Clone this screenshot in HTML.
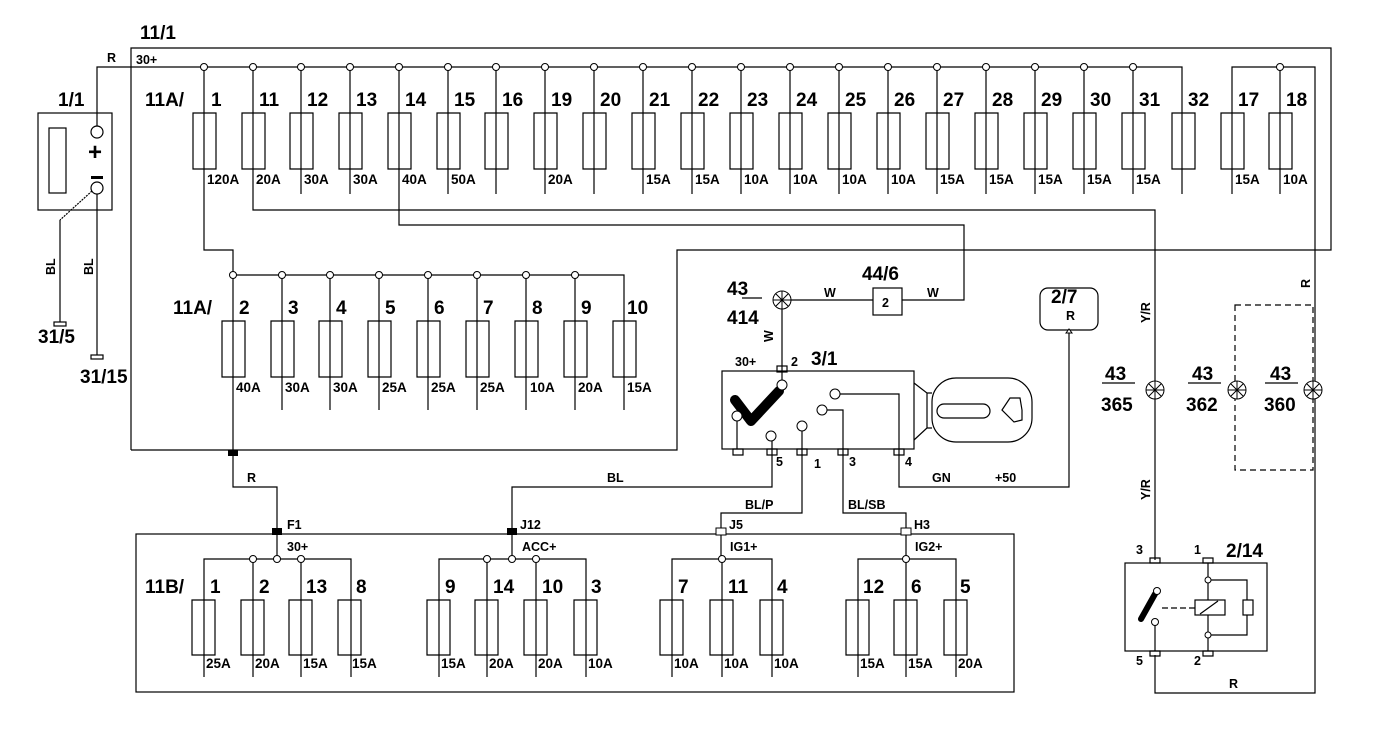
<!DOCTYPE html>
<html><head><meta charset="utf-8"><style>
html,body{margin:0;padding:0;background:#fff;}
svg{display:block;}
text{font-family:"Liberation Sans",Arial,sans-serif;font-weight:bold;fill:#000;}
.n{font-size:19px;}
.a{font-size:13.5px;}
.s{font-size:12.5px;}
</style></head><body>
<svg width="1376" height="748" viewBox="0 0 1376 748" xmlns="http://www.w3.org/2000/svg">
<g fill="none" stroke="#000" stroke-width="1.2">
<polyline points="131,450 131,48 1331,48 1331,250 677,250 677,450 131,450"/>
<polyline points="97,132 97,67 1182,67 1182,194"/>
<polyline points="1232,194 1232,67 1315,67 1315,693 1155,693 1155,655"/>
<path d="M204,67V250H233V450M253,67V210H1155V560M301,67V194M350,67V194M399,67V225H964V300H902M448,67V194M496,67V194M545,67V194M594,67V194M643,67V194M692,67V194M741,67V194M790,67V194M839,67V194M888,67V194M937,67V194M986,67V194M1035,67V194M1084,67V194M1133,67V194M1280,67V194"/>
<path d="M193,113h23v56h-23zM242,113h23v56h-23zM290,113h23v56h-23zM339,113h23v56h-23zM388,113h23v56h-23zM437,113h23v56h-23zM485,113h23v56h-23zM534,113h23v56h-23zM583,113h23v56h-23zM632,113h23v56h-23zM681,113h23v56h-23zM730,113h23v56h-23zM779,113h23v56h-23zM828,113h23v56h-23zM877,113h23v56h-23zM926,113h23v56h-23zM975,113h23v56h-23zM1024,113h23v56h-23zM1073,113h23v56h-23zM1122,113h23v56h-23zM1172,113h23v56h-23zM1221,113h23v56h-23zM1269,113h23v56h-23z"/>
<polyline points="233,275 624,275 624,410"/>
<path d="M282,275V410M330,275V410M379,275V410M428,275V410M477,275V410M526,275V410M575,275V410"/>
<path d="M222,321h23v56h-23zM271,321h23v56h-23zM319,321h23v56h-23zM368,321h23v56h-23zM417,321h23v56h-23zM466,321h23v56h-23zM515,321h23v56h-23zM564,321h23v56h-23zM613,321h23v56h-23z"/>
<polyline points="233,450 233,487 277,487 277,559"/>
<rect x="136" y="534" width="878" height="158"/>
<polyline points="512,559 512,487 772,487 772,436"/>
<polyline points="721,559 721,513 802,513 802,426"/>
<polyline points="906,559 906,513 843,513 843,410 822,410"/>
<polyline points="835,394 899,394 899,487 1069,487 1069,330"/>
<path d="M204,677V559H351V677M253,559V677M301,559V677"/>
<path d="M439,677V559H586V677M487,559V677M536,559V677"/>
<path d="M672,677V559H772V677M722,559V677"/>
<path d="M858,677V559H956V677M906,559V677"/>
<path d="M192,600h23v55h-23zM241,600h23v55h-23zM289,600h23v55h-23zM338,600h23v55h-23zM427,600h23v55h-23zM475,600h23v55h-23zM524,600h23v55h-23zM574,600h23v55h-23zM660,600h23v55h-23zM710,600h23v55h-23zM760,600h23v55h-23zM846,600h23v55h-23zM894,600h23v55h-23zM944,600h23v55h-23z"/>
<rect x="38" y="113" width="74" height="97"/>
<rect x="49" y="128" width="17" height="65"/>
<circle cx="97" cy="132" r="6" fill="#fff"/>
<circle cx="97" cy="188" r="6" fill="#fff"/>
<line x1="97" y1="194" x2="97" y2="355"/>
<line x1="92" y1="191" x2="60" y2="220" stroke-dasharray="2,1"/>
<line x1="60" y1="220" x2="60" y2="322"/>
<rect x="54" y="322" width="12" height="4"/>
<rect x="91" y="355" width="12" height="4"/>
<line x1="782" y1="300" x2="873" y2="300"/>
<line x1="782" y1="300" x2="782" y2="385"/>
<rect x="873" y="288" width="29" height="27"/>
<rect x="1040" y="288" width="58" height="42" rx="8"/>
<rect x="722" y="371" width="192" height="78"/>
<rect x="777" y="366" width="10" height="6"/>
<path d="M733,449h10v6h-10zM767,449h10v6h-10zM797,449h10v6h-10zM838,449h10v6h-10zM894,449h10v6h-10z"/>
<line x1="737" y1="416" x2="737" y2="449"/>
<path d="M914,383L927,393V428L914,440M927,393h5M927,428h5"/>
<rect x="932" y="378" width="100" height="64" rx="24"/>
<rect x="937" y="404" width="53" height="14" rx="7"/>
<path d="M1002,410L1010,398H1020L1022,410V420L1014,422Z"/>
<rect x="1235" y="305" width="78" height="165" stroke-dasharray="6,4"/>
<rect x="1125" y="563" width="142" height="88"/>
<path d="M1150,558h10v5h-10zM1203,558h10v5h-10zM1150,651h10v5h-10zM1203,651h10v5h-10z"/>
<line x1="1208" y1="563" x2="1208" y2="651"/>
<rect x="1195" y="600" width="30" height="15" fill="#fff"/>
<line x1="1200" y1="614" x2="1218" y2="601"/>
<rect x="1243" y="600" width="10" height="15"/>
<path d="M1208,580H1247V600M1247,615V635H1208"/>
<line x1="1162" y1="608" x2="1195" y2="608" stroke-dasharray="6,3"/>
<line x1="1155" y1="622" x2="1155" y2="651"/>
</g>
<polyline points="735,400 751,421 779,391" fill="none" stroke="#000" stroke-width="10" stroke-linecap="round" stroke-linejoin="round"/>
<line x1="1141" y1="619" x2="1155" y2="594" stroke="#000" stroke-width="6" stroke-linecap="round"/>
<rect x="91" y="176" width="12" height="3" fill="#000"/>
<rect x="228" y="450" width="10" height="6" fill="#000"/>
<rect x="272" y="528" width="10" height="7" fill="#000"/>
<rect x="507" y="528" width="10" height="7" fill="#000"/>
<rect x="716" y="528" width="10" height="7" fill="#fff" stroke="#000"/>
<rect x="901" y="528" width="10" height="7" fill="#fff" stroke="#000"/>
<g fill="#fff" stroke="#000" stroke-width="1">
<circle cx="204" cy="67" r="3.5"/><circle cx="253" cy="67" r="3.5"/><circle cx="301" cy="67" r="3.5"/><circle cx="350" cy="67" r="3.5"/><circle cx="399" cy="67" r="3.5"/><circle cx="448" cy="67" r="3.5"/><circle cx="496" cy="67" r="3.5"/><circle cx="545" cy="67" r="3.5"/><circle cx="594" cy="67" r="3.5"/><circle cx="643" cy="67" r="3.5"/><circle cx="692" cy="67" r="3.5"/><circle cx="741" cy="67" r="3.5"/><circle cx="790" cy="67" r="3.5"/><circle cx="839" cy="67" r="3.5"/><circle cx="888" cy="67" r="3.5"/><circle cx="937" cy="67" r="3.5"/><circle cx="986" cy="67" r="3.5"/><circle cx="1035" cy="67" r="3.5"/><circle cx="1084" cy="67" r="3.5"/><circle cx="1133" cy="67" r="3.5"/><circle cx="1280" cy="67" r="3.5"/>
<circle cx="233" cy="275" r="3.5"/><circle cx="282" cy="275" r="3.5"/><circle cx="330" cy="275" r="3.5"/><circle cx="379" cy="275" r="3.5"/><circle cx="428" cy="275" r="3.5"/><circle cx="477" cy="275" r="3.5"/><circle cx="526" cy="275" r="3.5"/><circle cx="575" cy="275" r="3.5"/>
<circle cx="253" cy="559" r="3.5"/><circle cx="277" cy="559" r="3.5"/><circle cx="301" cy="559" r="3.5"/>
<circle cx="487" cy="559" r="3.5"/><circle cx="512" cy="559" r="3.5"/><circle cx="536" cy="559" r="3.5"/>
<circle cx="722" cy="559" r="3.5"/><circle cx="906" cy="559" r="3.5"/>
<circle cx="782" cy="385" r="5"/><circle cx="737" cy="416" r="5"/><circle cx="771" cy="436" r="5"/><circle cx="802" cy="426" r="5"/><circle cx="822" cy="410" r="5"/><circle cx="835" cy="394" r="5"/>
<circle cx="1208" cy="580" r="3"/><circle cx="1208" cy="635" r="3"/><circle cx="1157" cy="591" r="3.5"/><circle cx="1155" cy="622" r="3.5"/>
</g>
<g fill="#fff" stroke="#000" stroke-width="1">
<circle cx="782" cy="300" r="9"/><path d="M773,300h18M782,291v18M776,294l12,12M788,294l-12,12"/>
<circle cx="1155" cy="390" r="9"/><path d="M1146,390h18M1155,381v18M1149,384l12,12M1161,384l-12,12"/>
<circle cx="1237" cy="390" r="9"/><path d="M1228,390h18M1237,381v18M1231,384l12,12M1243,384l-12,12"/>
<circle cx="1313" cy="390" r="9"/><path d="M1304,390h18M1313,381v18M1307,384l12,12M1319,384l-12,12"/>
</g>
<path d="M1066,333l3,-4l3,4z" fill="#fff" stroke="#000"/>
<g stroke="#000" stroke-width="1.2"><line x1="742" y1="298" x2="762" y2="298"/><line x1="1102" y1="383" x2="1135" y2="383"/><line x1="1188" y1="383" x2="1221" y2="383"/><line x1="1265" y1="383" x2="1298" y2="383"/></g>

<text class="n" x="140" y="39">11/1</text>
<text class="s" x="107" y="62">R</text>
<text class="s" x="136" y="64">30+</text>
<text class="n" x="58" y="106">1/1</text>
<text x="88" y="160" style="font-size:24px">+</text>
<text class="s" transform="translate(55,275) rotate(-90)">BL</text>
<text class="s" transform="translate(93,275) rotate(-90)">BL</text>
<text class="n" x="38" y="343">31/5</text>
<text class="n" x="80" y="383">31/15</text>
<text class="n" x="145" y="106">11A/</text>
<text class="n" x="211" y="106">1</text><text class="n" x="259" y="106">11</text><text class="n" x="307" y="106">12</text><text class="n" x="356" y="106">13</text><text class="n" x="405" y="106">14</text><text class="n" x="454" y="106">15</text><text class="n" x="502" y="106">16</text><text class="n" x="551" y="106">19</text><text class="n" x="600" y="106">20</text><text class="n" x="649" y="106">21</text><text class="n" x="698" y="106">22</text><text class="n" x="747" y="106">23</text><text class="n" x="796" y="106">24</text><text class="n" x="845" y="106">25</text><text class="n" x="894" y="106">26</text><text class="n" x="943" y="106">27</text><text class="n" x="992" y="106">28</text><text class="n" x="1041" y="106">29</text><text class="n" x="1090" y="106">30</text><text class="n" x="1139" y="106">31</text><text class="n" x="1188" y="106">32</text><text class="n" x="1238" y="106">17</text><text class="n" x="1286" y="106">18</text>
<text class="a" x="207" y="184">120A</text><text class="a" x="256" y="184">20A</text><text class="a" x="304" y="184">30A</text><text class="a" x="353" y="184">30A</text><text class="a" x="402" y="184">40A</text><text class="a" x="451" y="184">50A</text><text class="a" x="548" y="184">20A</text><text class="a" x="646" y="184">15A</text><text class="a" x="695" y="184">15A</text><text class="a" x="744" y="184">10A</text><text class="a" x="793" y="184">10A</text><text class="a" x="842" y="184">10A</text><text class="a" x="891" y="184">10A</text><text class="a" x="940" y="184">15A</text><text class="a" x="989" y="184">15A</text><text class="a" x="1038" y="184">15A</text><text class="a" x="1087" y="184">15A</text><text class="a" x="1136" y="184">15A</text><text class="a" x="1235" y="184">15A</text><text class="a" x="1283" y="184">10A</text>
<text class="n" x="173" y="314">11A/</text>
<text class="n" x="239" y="314">2</text><text class="n" x="288" y="314">3</text><text class="n" x="336" y="314">4</text><text class="n" x="385" y="314">5</text><text class="n" x="434" y="314">6</text><text class="n" x="483" y="314">7</text><text class="n" x="532" y="314">8</text><text class="n" x="581" y="314">9</text><text class="n" x="627" y="314">10</text>
<text class="a" x="236" y="392">40A</text><text class="a" x="285" y="392">30A</text><text class="a" x="333" y="392">30A</text><text class="a" x="382" y="392">25A</text><text class="a" x="431" y="392">25A</text><text class="a" x="480" y="392">25A</text><text class="a" x="530" y="392">10A</text><text class="a" x="578" y="392">20A</text><text class="a" x="627" y="392">15A</text>
<text class="s" x="247" y="482">R</text>
<text class="s" x="607" y="482">BL</text>
<text class="s" x="745" y="509">BL/P</text>
<text class="s" x="848" y="509">BL/SB</text>
<text class="s" x="932" y="482">GN</text>
<text class="s" x="995" y="482">+50</text>
<text class="s" x="287" y="529">F1</text>
<text class="s" x="520" y="529">J12</text>
<text class="s" x="729" y="529">J5</text>
<text class="s" x="914" y="529">H3</text>
<text class="s" x="287" y="551">30+</text>
<text class="s" x="522" y="551">ACC+</text>
<text class="s" x="730" y="551">IG1+</text>
<text class="s" x="915" y="551">IG2+</text>
<text class="n" x="145" y="593">11B/</text>
<text class="n" x="210" y="593">1</text><text class="n" x="259" y="593">2</text><text class="n" x="306" y="593">13</text><text class="n" x="356" y="593">8</text>
<text class="n" x="445" y="593">9</text><text class="n" x="493" y="593">14</text><text class="n" x="542" y="593">10</text><text class="n" x="591" y="593">3</text>
<text class="n" x="678" y="593">7</text><text class="n" x="728" y="593">11</text><text class="n" x="777" y="593">4</text>
<text class="n" x="863" y="593">12</text><text class="n" x="911" y="593">6</text><text class="n" x="960" y="593">5</text>
<text class="a" x="206" y="668">25A</text><text class="a" x="255" y="668">20A</text><text class="a" x="303" y="668">15A</text><text class="a" x="352" y="668">15A</text>
<text class="a" x="441" y="668">15A</text><text class="a" x="489" y="668">20A</text><text class="a" x="538" y="668">20A</text><text class="a" x="588" y="668">10A</text>
<text class="a" x="674" y="668">10A</text><text class="a" x="724" y="668">10A</text><text class="a" x="774" y="668">10A</text>
<text class="a" x="860" y="668">15A</text><text class="a" x="908" y="668">15A</text><text class="a" x="958" y="668">20A</text>
<text class="n" x="727" y="295">43</text>
<text class="n" x="727" y="324">414</text>
<text class="n" x="862" y="280">44/6</text>
<text class="s" x="882" y="307">2</text>
<text class="s" x="824" y="297">W</text>
<text class="s" x="927" y="297">W</text>
<text class="s" transform="translate(773,342) rotate(-90)">W</text>
<text class="s" x="735" y="366">30+</text>
<text class="s" x="791" y="366">2</text>
<text class="n" x="811" y="365">3/1</text>
<text class="s" x="776" y="466">5</text>
<text class="s" x="814" y="468">1</text>
<text class="s" x="849" y="466">3</text>
<text class="s" x="905" y="466">4</text>
<text class="n" x="1051" y="303">2/7</text>
<text class="s" x="1066" y="320">R</text>
<text class="s" transform="translate(1150,323) rotate(-90)">Y/R</text>
<text class="s" transform="translate(1150,500) rotate(-90)">Y/R</text>
<text class="s" transform="translate(1310,288) rotate(-90)">R</text>
<text class="n" x="1105" y="380">43</text><text class="n" x="1101" y="411">365</text>
<text class="n" x="1192" y="380">43</text><text class="n" x="1186" y="411">362</text>
<text class="n" x="1270" y="380">43</text><text class="n" x="1264" y="411">360</text>
<text class="s" x="1136" y="554">3</text>
<text class="s" x="1194" y="554">1</text>
<text class="n" x="1226" y="557">2/14</text>
<text class="s" x="1136" y="665">5</text>
<text class="s" x="1194" y="665">2</text>
<text class="s" x="1229" y="688">R</text>
</svg>
</body></html>
